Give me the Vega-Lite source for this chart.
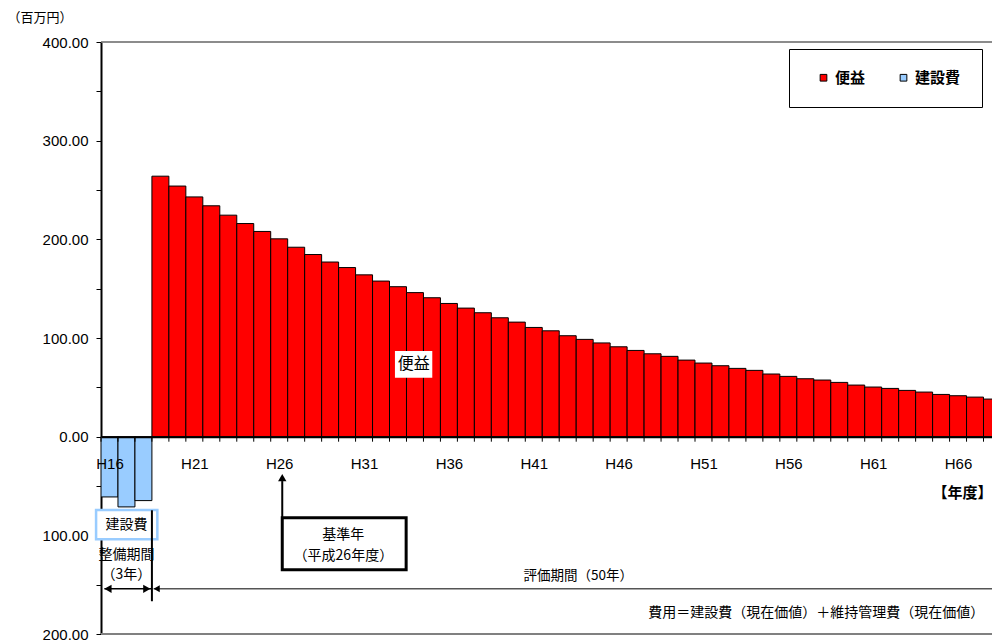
{
  "$schema": "https://vega.github.io/schema/vega-lite/v6.json",
  "width": 891,
  "height": 592,
  "autosize": {"type": "none"},
  "padding": {"left": 101, "top": 42, "right": 0, "bottom": 10},
  "background": "white",
  "config": {
    "view": {"stroke": null},
    "axis": {"grid": false},
    "text": {"font": "Noto Sans CJK JP", "color": "black"}
  },
  "datasets": {
    "bars": [
      {"year": 16, "series": "建設費", "value": -61.1},
      {"year": 17, "series": "建設費", "value": -71.2},
      {"year": 18, "series": "建設費", "value": -64.8},
      {"year": 19, "series": "便益", "value": 264},
      {"year": 20, "series": "便益", "value": 254},
      {"year": 21, "series": "便益", "value": 243},
      {"year": 22, "series": "便益", "value": 234},
      {"year": 23, "series": "便益", "value": 224.5},
      {"year": 24, "series": "便益", "value": 216},
      {"year": 25, "series": "便益", "value": 208},
      {"year": 26, "series": "便益", "value": 200.5},
      {"year": 27, "series": "便益", "value": 192},
      {"year": 28, "series": "便益", "value": 184.6},
      {"year": 29, "series": "便益", "value": 177},
      {"year": 30, "series": "便益", "value": 171.4},
      {"year": 31, "series": "便益", "value": 164},
      {"year": 32, "series": "便益", "value": 157.7},
      {"year": 33, "series": "便益", "value": 152},
      {"year": 34, "series": "便益", "value": 146},
      {"year": 35, "series": "便益", "value": 140.8},
      {"year": 36, "series": "便益", "value": 135},
      {"year": 37, "series": "便益", "value": 130.3},
      {"year": 38, "series": "便益", "value": 125.6},
      {"year": 39, "series": "便益", "value": 120.5},
      {"year": 40, "series": "便益", "value": 116.1},
      {"year": 41, "series": "便益", "value": 110.7},
      {"year": 42, "series": "便益", "value": 107.3},
      {"year": 43, "series": "便益", "value": 102.3},
      {"year": 44, "series": "便益", "value": 98.6},
      {"year": 45, "series": "便益", "value": 95},
      {"year": 46, "series": "便益", "value": 91.1},
      {"year": 47, "series": "便益", "value": 87.4},
      {"year": 48, "series": "便益", "value": 84},
      {"year": 49, "series": "便益", "value": 81.4},
      {"year": 50, "series": "便益", "value": 77.6},
      {"year": 51, "series": "便益", "value": 74.6},
      {"year": 52, "series": "便益", "value": 71.9},
      {"year": 53, "series": "便益", "value": 69.2},
      {"year": 54, "series": "便益", "value": 67.2},
      {"year": 55, "series": "便益", "value": 63.5},
      {"year": 56, "series": "便益", "value": 61.1},
      {"year": 57, "series": "便益", "value": 58.7},
      {"year": 58, "series": "便益", "value": 57.4},
      {"year": 59, "series": "便益", "value": 55},
      {"year": 60, "series": "便益", "value": 52.3},
      {"year": 61, "series": "便益", "value": 50.3},
      {"year": 62, "series": "便益", "value": 48.9},
      {"year": 63, "series": "便益", "value": 46.9},
      {"year": 64, "series": "便益", "value": 45.2},
      {"year": 65, "series": "便益", "value": 42.8},
      {"year": 66, "series": "便益", "value": 41.5},
      {"year": 67, "series": "便益", "value": 40.1},
      {"year": 68, "series": "便益", "value": 38.1}
    ],
    "one": [{}]
  },
  "layer": [
    {
      "data": {"name": "one"},
      "mark": {"type": "rule", "color": "#666666", "strokeWidth": 1.5},
      "encoding": {"y": {"datum": 400, "type": "quantitative"}}
    },
    {
      "data": {"name": "one"},
      "mark": {"type": "rule", "color": "#808080", "strokeWidth": 2},
      "encoding": {"y": {"datum": -200, "type": "quantitative"}}
    },
    {
      "data": {"name": "bars"},
      "mark": {"type": "bar", "orient": "vertical", "width": 16.97, "stroke": "black", "strokeWidth": 1, "clip": true},
      "encoding": {
        "x": {
          "field": "year", "type": "quantitative",
          "scale": {"domain": [15.5, 68.0], "nice": false, "zero": false, "padding": 0},
          "axis": {
            "title": "【年度】", "zindex": 1,
            "titleFont": "Noto Sans CJK JP", "titleFontSize": 15, "titleFontWeight": "bold", "titleColor": "black",
            "titleAnchor": "end", "titleAlign": "right", "titleX": 891, "titleY": 56, "titleBaseline": "middle",
            "offset": -197.33,
            "values": [16, 21, 26, 31, 36, 41, 46, 51, 56, 61, 66],
            "labelExpr": "'H' + datum.value",
            "labelOverlap": false, "labelFlush": false, "labelBound": false,
            "labelFont": "Liberation Sans", "labelFontSize": 15, "labelColor": "black",
            "labelPadding": 20,
            "ticks": false,
            "domainColor": "black", "domainWidth": 2
          }
        },
        "y": {
          "field": "value", "type": "quantitative",
          "scale": {"domain": [-200, 400], "nice": false, "zero": false, "padding": 0},
          "axis": {
            "title": "（百万円）",
            "titleFont": "Noto Sans CJK JP", "titleFontSize": 13, "titleFontWeight": "normal", "titleColor": "black",
            "titleAngle": 0, "titleAlign": "left", "titleBaseline": "middle", "titleX": -94, "titleY": -25,
            "values": [-200,-150,-100,-50,0,50,100,150,200,250,300,350,400],
            "labelExpr": "datum.value % 100 == 0 ? format(abs(datum.value), '.2f') : ''",
            "labelFont": "Liberation Sans", "labelFontSize": 15, "labelColor": "black",
            "labelPadding": 8, "labelOverlap": false,
            "tickSize": 5, "tickColor": "black", "tickWidth": 1,
            "domainColor": "black", "domainWidth": 2
          }
        },
        "color": {
          "field": "series", "type": "nominal",
          "scale": {"domain": ["便益", "建設費"], "range": ["#FF0000", "#99CCFF"]},
          "legend": {
            "title": null, "orient": "none", "legendX": 688, "legendY": 7,
            "direction": "horizontal", "strokeColor": "black", "fillColor": "white", "padding": 21,
            "symbolType": "square", "symbolSize": 45, "symbolStrokeColor": "black", "symbolStrokeWidth": 1,
            "symbolOffset": 6,
            "labelFont": "Noto Sans CJK JP", "labelFontSize": 15, "labelFontWeight": "bold", "labelColor": "black",
            "labelOffset": 4, "columnPadding": 24
          }
        }
      }
    },
    {
      "data": {"name": "bars"},
      "mark": {"type": "rule", "color": "black", "strokeWidth": 1, "xOffset": -8.485},
      "encoding": {
        "x": {"field": "year", "type": "quantitative"},
        "y": {"datum": 0, "type": "quantitative"}, "y2": {"datum": -5.1}
      }
    },
    {
      "data": {"name": "one"},
      "mark": {"type": "rect", "fill": "white"},
      "encoding": {
        "x": {"datum": 32.82, "type": "quantitative"}, "x2": {"datum": 35.02},
        "y": {"datum": 86.8, "type": "quantitative"}, "y2": {"datum": 59.7}
      }
    },
    {
      "data": {"name": "one"},
      "mark": {"type": "text", "text": "便益", "fontSize": 16, "baseline": "middle", "align": "center"},
      "encoding": {"x": {"datum": 33.93, "type": "quantitative"}, "y": {"datum": 73.4, "type": "quantitative"}}
    },
    {
      "data": {"name": "one"},
      "mark": {"type": "rect", "fill": "white", "stroke": "#99CCFF", "strokeWidth": 2.5},
      "encoding": {
        "x": {"datum": 15.21, "type": "quantitative"}, "x2": {"datum": 18.82},
        "y": {"datum": -74.2, "type": "quantitative"}, "y2": {"datum": -104.0}
      }
    },
    {
      "data": {"name": "one"},
      "mark": {"type": "text", "text": "建設費", "fontSize": 14, "baseline": "middle", "align": "center"},
      "encoding": {"x": {"datum": 17.0, "type": "quantitative"}, "y": {"datum": -89.1, "type": "quantitative"}}
    },
    {
      "data": {"name": "one"},
      "mark": {"type": "text", "text": "整備期間", "fontSize": 14, "baseline": "middle", "align": "center"},
      "encoding": {"x": {"datum": 17.0, "type": "quantitative"}, "y": {"datum": -119.5, "type": "quantitative"}}
    },
    {
      "data": {"name": "one"},
      "mark": {"type": "text", "text": "（3年）", "fontSize": 14, "baseline": "middle", "align": "center"},
      "encoding": {"x": {"datum": 17.0, "type": "quantitative"}, "y": {"datum": -139.7, "type": "quantitative"}}
    },
    {
      "data": {"name": "one"},
      "mark": {"type": "rule", "color": "#555555", "strokeWidth": 1.5},
      "encoding": {
        "x": {"datum": 18.6, "type": "quantitative"}, "x2": {"datum": 68.0},
        "y": {"datum": -154.2, "type": "quantitative"}
      }
    },
    {
      "data": {"name": "one"},
      "mark": {"type": "rule", "color": "black", "strokeWidth": 1.5},
      "encoding": {
        "x": {"datum": 15.7, "type": "quantitative"}, "x2": {"datum": 18.45},
        "y": {"datum": -154.2, "type": "quantitative"}
      }
    },
    {
      "data": {"name": "one"},
      "mark": {"type": "rule", "color": "black", "strokeWidth": 2},
      "encoding": {
        "x": {"datum": 18.5, "type": "quantitative"},
        "y": {"datum": -74.6, "type": "quantitative"}, "y2": {"datum": -166.8}
      }
    },
    {
      "data": {"name": "one"},
      "mark": {"type": "point", "shape": "triangle-left", "filled": true, "color": "black", "size": 70, "opacity": 1},
      "encoding": {"x": {"datum": 15.91, "type": "quantitative"}, "y": {"datum": -154.2, "type": "quantitative"}}
    },
    {
      "data": {"name": "one"},
      "mark": {"type": "point", "shape": "triangle-right", "filled": true, "color": "black", "size": 70, "opacity": 1},
      "encoding": {"x": {"datum": 18.2, "type": "quantitative"}, "y": {"datum": -154.2, "type": "quantitative"}}
    },
    {
      "data": {"name": "one"},
      "mark": {"type": "point", "shape": "triangle-left", "filled": true, "color": "black", "size": 50, "opacity": 1},
      "encoding": {"x": {"datum": 18.78, "type": "quantitative"}, "y": {"datum": -154.2, "type": "quantitative"}}
    },
    {
      "data": {"name": "one"},
      "mark": {"type": "rect", "fill": "white", "stroke": "black", "strokeWidth": 3},
      "encoding": {
        "x": {"datum": 26.18, "type": "quantitative"}, "x2": {"datum": 33.48},
        "y": {"datum": -82.2, "type": "quantitative"}, "y2": {"datum": -134.9}
      }
    },
    {
      "data": {"name": "one"},
      "mark": {"type": "rule", "color": "black", "strokeWidth": 2},
      "encoding": {
        "x": {"datum": 26.18, "type": "quantitative"},
        "y": {"datum": -82.2, "type": "quantitative"}, "y2": {"datum": -45}
      }
    },
    {
      "data": {"name": "one"},
      "mark": {"type": "point", "shape": "triangle-up", "filled": true, "color": "black", "size": 70, "opacity": 1},
      "encoding": {"x": {"datum": 26.18, "type": "quantitative"}, "y": {"datum": -41.5, "type": "quantitative"}}
    },
    {
      "data": {"name": "one"},
      "mark": {"type": "text", "text": "基準年", "fontSize": 14, "baseline": "middle", "align": "center"},
      "encoding": {"x": {"datum": 29.78, "type": "quantitative"}, "y": {"datum": -99.2, "type": "quantitative"}}
    },
    {
      "data": {"name": "one"},
      "mark": {"type": "text", "text": "（平成26年度）", "fontSize": 14, "baseline": "middle", "align": "center"},
      "encoding": {"x": {"datum": 29.78, "type": "quantitative"}, "y": {"datum": -121.2, "type": "quantitative"}}
    },
    {
      "data": {"name": "one"},
      "mark": {"type": "text", "text": "評価期間（50年）", "fontSize": 13.5, "baseline": "middle", "align": "left"},
      "encoding": {"x": {"datum": 40.4, "type": "quantitative"}, "y": {"datum": -140.8, "type": "quantitative"}}
    },
    {
      "data": {"name": "one"},
      "mark": {"type": "text", "text": "費用＝建設費（現在価値）＋維持管理費（現在価値）", "fontSize": 14, "baseline": "middle", "align": "right"},
      "encoding": {"x": {"datum": 67.55, "type": "quantitative"}, "y": {"datum": -178.5, "type": "quantitative"}}
    }
  ]
}
